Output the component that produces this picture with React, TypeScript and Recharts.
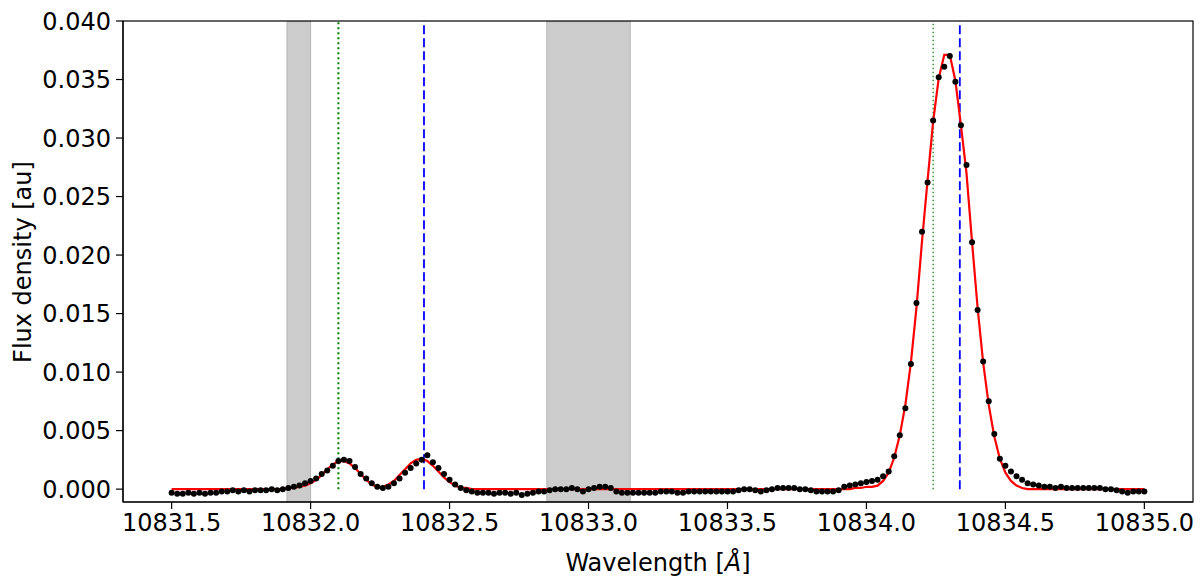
import { ComposedChart, Line, Scatter, XAxis, YAxis, ReferenceArea, ReferenceLine } from "recharts";

// spectrum sampling: 10831.50 Å, one point every 0.02 Å
const WL_START = 10831.5;
const WL_STEP = 0.02;

// measured flux (black dots)
const FLUX = [
  -0.0003, -0.0004, -0.0004, -0.0003, -0.0004, -0.0003, -0.0004, -0.0003, -0.0003, -0.0002,
  -0.0002, -0.0001, -0.0002, -0.0001, -0.0002, -0.0001, -0.0001, -0.0001, 0.0, -0.0001,
  0.0, 0.0001, 0.0002, 0.0003, 0.0005, 0.0007, 0.0009, 0.0013, 0.0016, 0.002,
  0.0024, 0.0025, 0.0024, 0.0019, 0.0013, 0.0009, 0.0005, 0.0002, 0.0001, 0.0002,
  0.0005, 0.0009, 0.0014, 0.0018, 0.0022, 0.0025, 0.0029, 0.0023, 0.0018, 0.0013,
  0.0008, 0.0004, 0.0001, -0.0001, -0.0002, -0.0003, -0.0003, -0.0003, -0.0004, -0.0003,
  -0.0003, -0.0004, -0.0003, -0.0005, -0.0004, -0.0003, -0.0002, -0.0002, -0.0001, 0.0,
  0.0, 0.0, 0.0001, 0.0, -0.0002, 0.0, 0.0001, 0.0002, 0.0002, 0.0001,
  -0.0002, -0.0003, -0.0003, -0.0003, -0.0003, -0.0003, -0.0003, -0.0003, -0.0002, -0.0002,
  -0.0002, -0.0003, -0.0003, -0.0002, -0.0002, -0.0002, -0.0002, -0.0002, -0.0002, -0.0002,
  -0.0002, -0.0002, -0.0001, 0.0, 0.0, -0.0001, -0.0002, -0.0001, 0.0, 0.0001,
  0.0001, 0.0001, 0.0001, 0.0, 0.0, -0.0001, -0.0002, -0.0002, -0.0002, -0.0002,
  -0.0001, 0.0002, 0.0003, 0.0004, 0.0005, 0.0006, 0.0007, 0.0008, 0.0011, 0.0015,
  0.0028, 0.0046, 0.0069, 0.0107, 0.0159, 0.022, 0.0262, 0.0315, 0.0352, 0.0361,
  0.037, 0.0348, 0.0311, 0.0277, 0.0211, 0.0153, 0.0109, 0.0075, 0.0047, 0.0026,
  0.002, 0.0015, 0.0011, 0.0008, 0.0005, 0.0004, 0.0003, 0.0002, 0.0002, 0.0001,
  0.0002, 0.0001, 0.0001, 0.0001, 0.0001, 0.0001, 0.0001, 0.0001, 0.0, 0.0,
  -0.0001, -0.0002, -0.0003, -0.0002, -0.0002, -0.0002,
];

// model fit (red line), same sampling
const FIT = [
  0, 0, 0, 0, 0, 0, 0, 0, 0, 0,
  0, 0, 0, 0, 0, 0, 0, 0, 0, 0,
  0, 0.0001, 0.0001, 0.0002, 0.0003, 0.0005, 0.0008, 0.0012, 0.0017, 0.0021,
  0.0024, 0.0024, 0.0022, 0.0018, 0.0013, 0.0008, 0.0004, 0.0002, 0.0002, 0.0004,
  0.0007, 0.0012, 0.0017, 0.0022, 0.0025, 0.0026, 0.0024, 0.002, 0.0015, 0.001,
  0.0006, 0.0003, 0.0001, 0.0001, 0, 0, 0, 0, 0, 0,
  0, 0, 0, 0, 0, 0, 0, 0, 0, 0,
  0, 0, 0, 0, 0, 0, 0, 0, 0, 0,
  0, 0, 0, 0, 0, 0, 0, 0, 0, 0,
  0, 0, 0, 0, 0, 0, 0, 0, 0, 0,
  0, 0, 0, 0, 0, 0, 0, 0, 0, 0,
  0, 0, 0, 0, 0, 0, 0, 0, 0, 0,
  0, 0, 0, 0.0001, 0.0001, 0.0002, 0.0002, 0.0003, 0.0007, 0.0014,
  0.0027, 0.0046, 0.0072, 0.0108, 0.0155, 0.0212, 0.0264, 0.0314, 0.0351, 0.0371,
  0.0371, 0.0349, 0.0311, 0.027, 0.0211, 0.0155, 0.0108, 0.0072, 0.0045, 0.0026,
  0.0014, 0.0007, 0.0003, 0.0001, 0, 0, 0, 0, 0, 0,
  0, 0, 0, 0, 0, 0, 0, 0, 0, 0,
  0, 0, 0, 0, 0, 0,
];

const X_TICKS = [10831.5, 10832.0, 10832.5, 10833.0, 10833.5, 10834.0, 10834.5, 10835.0];
const Y_TICKS = [0, 0.005, 0.01, 0.015, 0.02, 0.025, 0.03, 0.035, 0.04];
const X_DOMAIN = [10831.325, 10835.175];
const Y_DOMAIN = [-0.0011, 0.04];

// masked regions (grey) and line positions
const MASKS = [
  [10831.915, 10832.0],
  [10832.85, 10833.15],
];
const GREEN_LINES = [10832.1, 10834.24];
const BLUE_LINES = [10832.408, 10834.336];

const data = FLUX.map((f, i) => ({
  w: Number((WL_START + i * WL_STEP).toFixed(2)),
  flux: f,
  fit: FIT[i],
}));

const FONT = '"DejaVu Sans", Verdana, sans-serif';
const tickStyle = { fill: "#000", fontSize: 24, fontFamily: FONT };

// plot box (matches chart margins / axis sizes below)
const BOX = { left: 123, top: 21, right: 1193, bottom: 502 };

const Dot = (p: any) => <circle cx={p.cx} cy={p.cy} r={3} fill="#000" />;

export default function App() {
  return (
    <div style={{ position: "absolute", left: 0, top: 0, width: 1200, height: 588, background: "#fff" }}>
      <ComposedChart width={1200} height={588} data={data} margin={{ top: BOX.top, right: 1200 - BOX.right, bottom: 0, left: 0 }}>
        {MASKS.map(([a, b]) => (
          <ReferenceArea key={a} x1={a} x2={b} y1={Y_DOMAIN[0]} y2={Y_DOMAIN[1]} fill="#cccccc" fillOpacity={1} stroke="#b4b4b4" strokeWidth={1} ifOverflow="hidden" />
        ))}
        <XAxis
          dataKey="w"
          type="number"
          domain={X_DOMAIN}
          ticks={X_TICKS}
          allowDataOverflow
          height={588 - BOX.bottom}
          tickSize={7}
          tickMargin={5}
          tick={tickStyle}
          tickFormatter={(v: number) => v.toFixed(1)}
          axisLine={{ stroke: "#000", strokeWidth: 1.2 }}
          tickLine={{ stroke: "#000", strokeWidth: 1.2 }}
        />
        <YAxis
          type="number"
          domain={Y_DOMAIN}
          ticks={Y_TICKS}
          allowDataOverflow
          width={BOX.left}
          tickSize={7}
          tickMargin={5}
          tick={tickStyle}
          tickFormatter={(v: number) => v.toFixed(3)}
          axisLine={{ stroke: "#000", strokeWidth: 1.2 }}
          tickLine={{ stroke: "#000", strokeWidth: 1.2 }}
        />
        {GREEN_LINES.map((x, i) => (
          <ReferenceLine
            key={"g" + x}
            segment={[{ x, y: 0 }, { x, y: 0.04 }]}
            stroke="#008000"
            strokeWidth={i === 0 ? 2 : 1.2}
            strokeDasharray={i === 0 ? "2 3" : "1.5 2.5"}
          />
        ))}
        {BLUE_LINES.map((x) => (
          <ReferenceLine key={"b" + x} segment={[{ x, y: 0 }, { x, y: 0.04 }]} stroke="#0000ff" strokeWidth={1.8} strokeDasharray="9 4" />
        ))}
        <Scatter dataKey="flux" fill="#000" shape={Dot} isAnimationActive={false} />
        <Line dataKey="fit" type="linear" stroke="#ff0000" strokeWidth={2.2} dot={false} activeDot={false} isAnimationActive={false} />
      </ComposedChart>
      <svg width={1200} height={588} style={{ position: "absolute", left: 0, top: 0, pointerEvents: "none" }}>
        <rect x={BOX.left} y={BOX.top} width={BOX.right - BOX.left} height={BOX.bottom - BOX.top} fill="none" stroke="#000" strokeWidth={1.2} />
        <text x={658} y={571} textAnchor="middle" fontSize={24} fontFamily={FONT} fill="#000">
          Wavelength [<tspan fontStyle="italic">Å</tspan>]
        </text>
        <text transform="translate(31,262) rotate(-90)" textAnchor="middle" fontSize={24} fontFamily={FONT} fill="#000">
          Flux density [au]
        </text>
      </svg>
    </div>
  );
}
